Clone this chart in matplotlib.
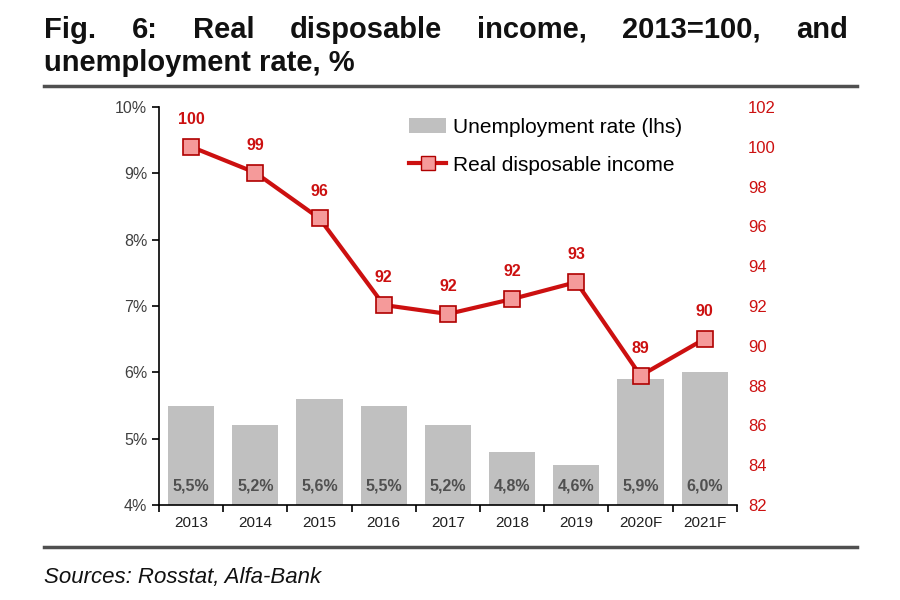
import numpy as np
import matplotlib.pyplot as plt
from matplotlib.lines import Line2D
from matplotlib.patches import Patch

years = ['2013', '2014', '2015', '2016', '2017', '2018', '2019', '2020F', '2021F']
unemployment = [5.5, 5.2, 5.6, 5.5, 5.2, 4.8, 4.6, 5.9, 6.0]
unemp_labels = ['5,5%', '5,2%', '5,6%', '5,5%', '5,2%', '4,8%', '4,6%', '5,9%', '6,0%']
income = [100.0, 98.7, 96.4, 92.05, 91.6, 92.35, 93.2, 88.5, 90.35]
income_labels = ['100', '99', '96', '92', '92', '92', '93', '89', '90']

RED = '#cc1010'
plt.rcParams['font.family'] = ['Liberation Sans', 'DejaVu Sans']

fig = plt.figure(figsize=(9, 6), dpi=100)
ax = fig.add_axes([0.1767, 0.1583, 0.642, 0.6634])
x = np.arange(len(years))

ax.bar(x, unemployment, width=0.72, color='#c0c0c0', zorder=1)
for xi, lab in zip(x, unemp_labels):
    ax.text(xi, 4.18, lab, ha='center', va='bottom', fontsize=11.5,
            fontweight='bold', color='#505050')
ax.set_ylim(4, 10)
ax.set_xlim(-0.5, len(years) - 0.5)
ax.set_yticks(np.arange(4, 11, 1))
ax.set_yticklabels([f'{v}%' for v in range(4, 11)], fontsize=11.5, color='#404040')
ax.set_xticks(x)
ax.set_xticklabels(years, fontsize=11, color='#202020')
ax.set_xticks(np.arange(-0.5, len(years), 1), minor=True)
ax.tick_params(axis='x', which='major', length=0, pad=8)
ax.tick_params(axis='x', which='minor', length=5, width=1.2, direction='out')
ax.tick_params(axis='y', length=5, width=1.2, direction='out')
for s in ['top', 'right']:
    ax.spines[s].set_visible(False)
ax.spines['left'].set_linewidth(1.2)
ax.spines['bottom'].set_linewidth(1.2)

ax2 = ax.twinx()
ax2.plot(x, income, color=RED, lw=3, marker='s', markersize=11,
         markerfacecolor='#f59a9a', markeredgecolor='#b00000', markeredgewidth=1.2, zorder=3)
for xi, v, lab in zip(x, income, income_labels):
    ax2.text(xi, v + 1.0, lab, ha='center', va='bottom', fontsize=11.5,
             fontweight='bold', color=RED)
ax2.set_ylim(82, 102)
ax2.set_yticks(np.arange(82, 103, 2))
ax2.tick_params(axis='y', length=0, labelsize=12, labelcolor=RED, pad=8)
for s in ['top', 'right', 'left', 'bottom']:
    ax2.spines[s].set_visible(False)

handles = [Patch(facecolor='#c0c0c0', edgecolor='none'),
           Line2D([0], [0], color=RED, lw=3, marker='s', markersize=10,
                  markerfacecolor='#f59a9a', markeredgecolor='#b00000')]
ax2.legend(handles, ['Unemployment rate (lhs)', 'Real disposable income'],
           loc='upper left', bbox_to_anchor=(0.40, 1.02), frameon=False,
           fontsize=15, handlelength=1.8, handletextpad=0.3, labelspacing=0.9)

# title, justified across the width
line1 = ['Fig.', '6:', 'Real', 'disposable', 'income,', '2013=100,', 'and']
renderer = fig.canvas.get_renderer()
texts = []
for w in line1:
    t = fig.text(0, 0.937, w, fontsize=21, fontweight='bold', va='baseline', color='#111111')
    texts.append(t)
widths = [t.get_window_extent(renderer).width / 900 for t in texts]
left, right = 0.049, 0.942
gap = (right - left - sum(widths)) / (len(line1) - 1)
pos = left
for t, w in zip(texts, widths):
    t.set_x(pos)
    pos += w + gap
fig.text(0.049, 0.882, 'unemployment rate, %', fontsize=21, fontweight='bold',
         va='baseline', color='#111111')

fig.add_artist(Line2D([0.049, 0.952], [0.857, 0.857], color='#505050', lw=2.5))
fig.add_artist(Line2D([0.049, 0.952], [0.088, 0.088], color='#505050', lw=2.5))
fig.text(0.049, 0.037, 'Sources: Rosstat, Alfa-Bank', fontsize=16, style='italic',
         va='center', color='#111111')

fig.savefig('out.png', dpi=100)
